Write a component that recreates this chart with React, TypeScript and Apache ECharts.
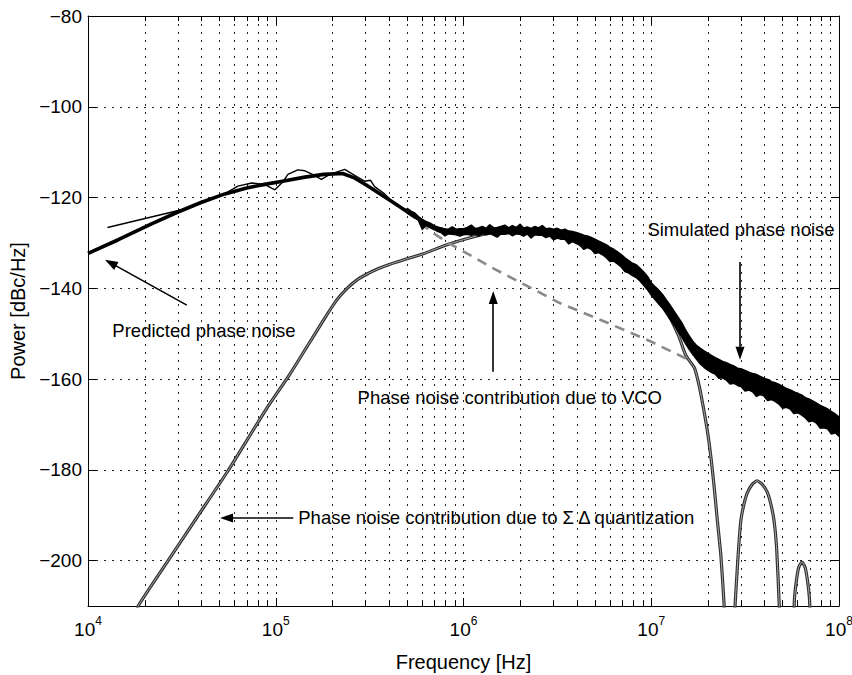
import React, { useEffect, useRef } from "react";
import * as echarts from "echarts";

const FONT = "'Liberation Sans', Arial, Helvetica, sans-serif";

// ---- axis ticks ----
const decadeStarts = [1e4, 1e5, 1e6, 1e7];
const minorMultipliers = [2, 3, 4, 5, 6, 7, 8, 9];

// ---- predicted phase noise (thick line) [Hz, dBc/Hz] ----
const predicted: [number, number][] = [
  [1e4, -132.3], [1.45e4, -129.3], [2.18e4, -125.8], [2.97e4, -123.3], [4e4, -121.1],
  [5.36e4, -119.2], [7e4, -117.9], [8.73e4, -117.1], [1.05e5, -116.5], [1.43e5, -115.5],
  [1.8e5, -114.9], [2.27e5, -114.7], [2.6e5, -115.6], [3.05e5, -117.3], [3.6e5, -119.2],
  [4.19e5, -121.0], [5.35e5, -123.9], [6.84e5, -126.5], [8.73e5, -127.6], [1.1e6, -127.7],
  [2e6, -127.4], [3e6, -128.0], [4e6, -129.2], [6e6, -132.0], [8e6, -135.3], [1e7, -140.2],
  [1.2e7, -144.0], [1.4e7, -148.5], [1.6e7, -152.3], [1.8e7, -155.2], [2e7, -156.5],
  [3e7, -159.6], [5e7, -163.6], [1e8, -170.8],
];

// ---- simulated phase noise, low-frequency thin trace ----
const simulatedLow: [number, number][] = [
  [1.27e4, -126.6], [3.15e4, -122.7], [4.2e4, -120.9], [5.4e4, -119.1], [6.28e4, -117.5],
  [7.45e4, -116.8], [8.7e4, -117.1], [9.9e4, -118.3], [1.09e5, -116.6], [1.16e5, -114.9],
  [1.31e5, -113.9], [1.43e5, -114.1], [1.57e5, -114.9], [1.75e5, -116.0], [1.94e5, -114.9],
  [2.33e5, -113.8], [2.63e5, -115.1], [2.97e5, -116.4], [3.2e5, -116.2], [3.36e5, -117.6],
  [3.8e5, -119.2], [4.2e5, -121.0], [4.6e5, -122.2], [5.01e5, -122.8],
];

// ---- simulated phase noise, noisy band [Hz, low dB, high dB] ----
const simulatedBand: [number, number, number][] = [
  [5.01e5, -123.2, -122.4], [5.25e5, -123.8, -123.0], [5.5e5, -124.4, -123.4], [5.75e5, -125.0, -124.2],
  [6.03e5, -127.0, -124.8], [6.31e5, -126.1, -125.3], [6.61e5, -126.6, -125.6], [6.92e5, -127.0, -126.1],
  [7.24e5, -127.4, -126.5], [7.59e5, -127.7, -126.7], [7.94e5, -128.4, -127.0], [8.32e5, -128.0, -127.0],
  [8.71e5, -128.1, -126.5], [9.12e5, -128.2, -127.0], [9.55e5, -128.5, -126.9],
  [1.0e6, -128.2, -126.9], [1.05e6, -128.1, -126.6], [1.1e6, -128.3, -126.1], [1.15e6, -128.0, -126.8],
  [1.2e6, -128.5, -126.7], [1.26e6, -128.0, -126.4], [1.32e6, -128.2, -126.8], [1.38e6, -127.9, -126.0],
  [1.45e6, -128.3, -126.7], [1.51e6, -128.7, -126.6], [1.58e6, -128.0, -126.4], [1.66e6, -128.1, -126.1],
  [1.74e6, -127.9, -126.7], [1.82e6, -128.4, -126.2], [1.91e6, -128.0, -126.6], [2.0e6, -128.1, -125.9],
  [2.09e6, -128.5, -126.7], [2.19e6, -128.0, -126.5], [2.29e6, -128.9, -126.8], [2.4e6, -128.2, -126.4],
  [2.51e6, -128.3, -126.7], [2.63e6, -128.3, -126.2], [2.75e6, -128.8, -126.9], [2.88e6, -128.5, -126.8],
  [3.02e6, -129.3, -127.0], [3.16e6, -128.9, -126.8], [3.31e6, -129.2, -127.2], [3.47e6, -129.2, -127.0],
  [3.63e6, -130.2, -127.4], [3.8e6, -129.7, -127.5], [3.98e6, -130.1, -127.7], [4.17e6, -130.5, -128.0],
  [4.37e6, -131.4, -128.3], [4.57e6, -131.0, -128.5], [4.79e6, -131.4, -128.8], [5.01e6, -132.3, -129.2],
  [5.25e6, -132.1, -129.6], [5.5e6, -132.6, -130.0], [5.75e6, -133.2, -130.4], [6.03e6, -134.1, -131.0],
  [6.31e6, -134.0, -131.4], [6.61e6, -134.6, -132.0], [6.92e6, -135.3, -132.6], [7.24e6, -136.3, -133.3],
  [7.59e6, -136.6, -133.9], [7.94e6, -137.2, -134.5], [8.32e6, -137.6, -134.8], [8.71e6, -138.4, -135.6],
  [9.12e6, -139.3, -136.4], [9.55e6, -140.3, -137.4],
  [1.0e7, -141.5, -138.8], [1.05e7, -142.5, -139.7], [1.1e7, -143.5, -140.5], [1.15e7, -144.4, -141.4],
  [1.2e7, -145.5, -142.5], [1.26e7, -146.8, -143.7], [1.32e7, -148.0, -145.0], [1.38e7, -149.3, -146.2],
  [1.45e7, -150.6, -147.5], [1.51e7, -151.9, -148.9], [1.58e7, -153.2, -150.3], [1.66e7, -154.5, -151.6],
  [1.74e7, -155.6, -152.6], [1.82e7, -156.6, -153.2], [1.91e7, -157.4, -153.8], [2.0e7, -158.0, -154.3],
  [2.09e7, -158.5, -154.8], [2.19e7, -158.9, -155.3], [2.29e7, -159.8, -155.7], [2.4e7, -159.7, -156.1],
  [2.51e7, -160.2, -156.4], [2.63e7, -161.1, -156.8], [2.75e7, -160.9, -157.1], [2.88e7, -161.4, -157.6],
  [3.02e7, -161.7, -157.8], [3.16e7, -162.6, -158.1], [3.31e7, -162.4, -158.5], [3.47e7, -162.8, -158.8],
  [3.63e7, -163.8, -159.0], [3.8e7, -163.4, -159.4], [3.98e7, -163.7, -159.8], [4.17e7, -164.7, -160.1],
  [4.37e7, -164.5, -160.6], [4.57e7, -164.9, -160.8], [4.79e7, -165.5, -161.2], [5.01e7, -166.4, -161.6],
  [5.25e7, -166.2, -162.1], [5.5e7, -166.6, -162.4], [5.75e7, -167.6, -162.8], [6.03e7, -167.4, -163.2],
  [6.31e7, -167.9, -163.5], [6.61e7, -168.5, -164.1], [6.92e7, -169.4, -164.4], [7.24e7, -169.2, -164.8],
  [7.59e7, -169.7, -165.3], [7.94e7, -170.8, -165.8], [8.32e7, -170.7, -166.2], [8.71e7, -171.0, -166.6],
  [9.12e7, -172.1, -167.2], [9.55e7, -171.8, -167.7], [1.0e8, -172.6, -168.4],
];

// ---- VCO contribution (dashed) ----
const vcoContribution: [number, number][] = [
  [5e5, -123.3], [5.5e5, -124.5], [6.05e5, -126.1], [7e5, -128.0], [8.4e5, -130.1],
  [1.44e6, -135.6], [2.33e6, -140.1], [3.24e6, -143.2], [6e6, -147.8], [9.8e6, -151.6],
  [1.59e7, -155.8],
];

// ---- Sigma-Delta quantization contribution ----
const sigmaDeltaMain: [number, number][] = [
  [1.8e4, -212], [1.85e4, -210], [2.67e4, -200], [3.8e4, -190.5], [5.57e4, -180.2],
  [8.9e4, -166.6], [1.19e5, -158.9], [1.79e5, -147.1], [2.11e5, -142.6], [2.4e5, -140.0],
  [2.7e5, -138.2], [3.05e5, -136.9], [3.5e5, -135.7], [4.06e5, -134.7], [5e5, -133.5],
  [6.1e5, -132.4], [8.15e5, -130.4], [1.22e6, -128.3], [1.55e6, -127.6], [2e6, -127.3],
  [2.5e6, -127.3], [3e6, -127.6], [4e6, -128.7], [5e6, -130.0], [6e6, -131.6], [8e6, -135.3],
  [1e7, -140.0], [1.2e7, -144.8], [1.4e7, -150.5], [1.53e7, -154.8], [1.7e7, -157.6],
  [1.8e7, -161.5], [1.88e7, -165.5], [1.99e7, -171.4], [2.08e7, -177.3], [2.16e7, -183.5],
  [2.25e7, -191.2], [2.35e7, -199.0], [2.44e7, -209.3], [2.46e7, -212],
];
const sigmaDeltaLobe2: [number, number][] = [
  [2.78e7, -212], [2.8e7, -209.3], [2.9e7, -199.0], [3.0e7, -191.2], [3.12e7, -187.5],
  [3.25e7, -185.0], [3.45e7, -183.2], [3.66e7, -182.4], [3.9e7, -183.2], [4.16e7, -185.0],
  [4.35e7, -187.8], [4.51e7, -191.2], [4.65e7, -197.0], [4.8e7, -209.3], [4.82e7, -212],
];
const sigmaDeltaLobe3: [number, number][] = [
  [5.75e7, -212], [5.8e7, -208.0], [5.95e7, -204.0], [6.1e7, -201.5], [6.35e7, -200.3],
  [6.6e7, -201.5], [6.8e7, -204.5], [6.95e7, -208.0], [7.02e7, -212],
];

// ---- annotations (data coordinates) ----
const annotationTexts = [
  { text: "Predicted phase noise", f: 1.34e4, db: -149.2 },
  { text: "Simulated phase noise", f: 9.48e6, db: -127.1 },
  { text: "Phase noise contribution due to VCO", f: 2.71e5, db: -164.1 },
  { text: "Phase noise contribution due to \u03A3 \u0394 quantization", f: 1.31e5, db: -190.4 },
];
const annotationArrows = [
  { from: [3.36e4, -143.7], to: [1.32e4, -134.4] },
  { from: [2.97e7, -134.2], to: [2.97e7, -154.3] },
  { from: [1.44e6, -158.4], to: [1.44e6, -142.0] },
  { from: [1.24e5, -190.6], to: [5.47e4, -190.6] },
];

export default function App() {
  const ref = useRef<HTMLDivElement>(null);

  useEffect(() => {
    if (!ref.current) return;
    const chart = echarts.init(ref.current, undefined, { renderer: "svg" });

    const minorTicks = decadeStarts.flatMap((d) => minorMultipliers.map((m) => m * d));
    const gap: any = [2.6e7, "-"];
    const gap2: any = [5.3e7, "-"];
    const sigmaDeltaData: any[] = [...sigmaDeltaMain, gap, ...sigmaDeltaLobe2, gap2, ...sigmaDeltaLobe3];

    const gridLine = { color: "#222", width: 1, type: [2, 6] as any };
    const axisLineStyle = { color: "#000", width: 1 };

    const xBase: any = {
      type: "log",
      logBase: 10,
      min: 1e4,
      max: 1e8,
      axisLine: { show: true, onZero: false, lineStyle: axisLineStyle },
      axisTick: { show: true, inside: true, length: 8, lineStyle: { color: "#000" } },
      minorTick: { show: false },
    };
    const yBase: any = {
      type: "value",
      min: -210,
      max: -80,
      splitNumber: 6,
      minInterval: 20,
      maxInterval: 20,
      axisLine: { show: true, onZero: false, lineStyle: axisLineStyle },
      axisTick: { show: true, inside: true, length: 8, lineStyle: { color: "#000" } },
    };

    const option: any = {
      animation: false,
      backgroundColor: "#fff",
      textStyle: { fontFamily: FONT },
      grid: { left: 88, right: 13, top: 16, bottom: 69, containLabel: false, outerBoundsMode: "none" },
      xAxis: [
        {
          ...xBase,
          position: "bottom",
          name: "Frequency [Hz]",
          nameLocation: "middle",
          nameGap: 46,
          nameTextStyle: { fontSize: 20, color: "#000", fontFamily: FONT },
          splitLine: { show: true, lineStyle: gridLine },
          axisLabel: {
            show: true,
            margin: 9,
            color: "#000",
            formatter: (v: number) => `{b|10}{e|${Math.round(Math.log10(v))}}`,
            rich: {
              b: { fontSize: 19, lineHeight: 24, verticalAlign: "bottom", color: "#000", fontFamily: FONT },
              e: { fontSize: 12, lineHeight: 12, verticalAlign: "top", color: "#000", fontFamily: FONT },
            },
          },
        },
        {
          ...xBase,
          position: "top",
          splitLine: { show: false },
          axisLabel: { show: false },
        },
      ],
      yAxis: [
        {
          ...yBase,
          position: "left",
          name: "Power [dBc/Hz]",
          nameLocation: "middle",
          nameRotate: 90,
          nameGap: 46,
          nameTextStyle: { fontSize: 20, color: "#000", fontFamily: FONT },
          splitLine: { show: true, lineStyle: gridLine },
          axisLabel: {
            show: true,
            margin: 6,
            fontSize: 19,
            color: "#000",
            fontFamily: FONT,
            showMinLabel: false,
            formatter: (v: number) => String(v).replace("-", "\u2212"),
          },
        },
        {
          ...yBase,
          position: "right",
          splitLine: { show: false },
          axisLabel: { show: false },
        },
      ],
      series: [
        {
          type: "custom",
          name: "minor grid",
          silent: true,
          z: 1,
          data: minorTicks.map((f) => [f, -80]),
          encode: { x: 0, y: 1 },
          renderItem: (params: any, api: any) => {
            const p = api.coord([api.value(0), -80]);
            const cs = params.coordSys;
            const x = Math.round(p[0]) + 0.5;
            return {
              type: "group",
              children: [
                { type: "line", shape: { x1: x, y1: cs.y, x2: x, y2: cs.y + cs.height }, style: { stroke: "#222", lineWidth: 1, lineDash: [2, 6] } },
                { type: "line", shape: { x1: x, y1: cs.y + cs.height, x2: x, y2: cs.y + cs.height - 5 }, style: { stroke: "#000", lineWidth: 1 } },
                { type: "line", shape: { x1: x, y1: cs.y, x2: x, y2: cs.y + 5 }, style: { stroke: "#000", lineWidth: 1 } },
              ],
            };
          },
        },
        {
          type: "line",
          name: "sigma-delta outer",
          data: sigmaDeltaData,
          showSymbol: false,
          symbol: "none",
          connectNulls: false,
          smooth: 0.2,
          silent: true,
          z: 2,
          lineStyle: { color: "#303030", width: 3.2 },
        },
        {
          type: "line",
          name: "sigma-delta inner",
          data: sigmaDeltaData,
          showSymbol: false,
          symbol: "none",
          connectNulls: false,
          smooth: 0.2,
          silent: true,
          z: 3,
          lineStyle: { color: "#a8a8a8", width: 1 },
        },
        {
          type: "line",
          name: "VCO",
          data: vcoContribution,
          showSymbol: false,
          symbol: "none",
          silent: true,
          z: 4,
          lineStyle: { color: "#8a8a8a", width: 2.6, type: [10, 7] },
        },
        {
          type: "line",
          name: "Predicted",
          data: predicted,
          showSymbol: false,
          symbol: "none",
          silent: true,
          z: 5,
          lineStyle: { color: "#000", width: 3.6 },
        },
        {
          type: "custom",
          name: "Simulated band",
          silent: true,
          z: 6,
          data: simulatedBand,
          encode: { x: 0, y: [1, 2] },
          renderItem: (params: any, api: any) => {
            if (params.dataIndexInside !== 0) return null;
            const n = params.dataInsideLength;
            const upper: number[][] = [];
            const lower: number[][] = [];
            for (let j = 0; j < n; j++) {
              const f = api.value(0, j);
              upper.push(api.coord([f, api.value(2, j)]));
              lower.push(api.coord([f, api.value(1, j)]));
            }
            return {
              type: "polygon",
              shape: { points: upper.concat(lower.reverse()) },
              style: { fill: "#000", stroke: "#000", lineWidth: 1.6, lineJoin: "round" },
            };
          },
        },
        {
          type: "line",
          name: "Simulated",
          data: simulatedLow,
          showSymbol: false,
          symbol: "none",
          silent: true,
          z: 7,
          lineStyle: { color: "#000", width: 1.4 },
          markLine: {
            silent: true,
            symbol: ["none", "triangle"],
            symbolSize: [9, 13],
            label: { show: false },
            itemStyle: { color: "#000" },
            lineStyle: { color: "#000", width: 1.6, type: "solid" },
            emphasis: { disabled: true },
            data: annotationArrows.map((a) => [{ coord: a.from }, { coord: a.to }]),
          },
          markPoint: {
            silent: true,
            symbol: "circle",
            symbolSize: 1,
            itemStyle: { color: "rgba(0,0,0,0)" },
            label: {
              show: true,
              position: "right",
              distance: 0,
              color: "#000",
              fontSize: 18.5,
              fontFamily: FONT,
              formatter: (p: any) => p.name,
            },
            emphasis: { disabled: true },
            data: annotationTexts.map((t) => ({ name: t.text, coord: [t.f, t.db] })),
          },
        },
      ],
    };

    chart.setOption(option);
    return () => chart.dispose();
  }, []);

  return (
    <div
      ref={ref}
      style={{ position: "fixed", left: 0, top: 0, width: 852, height: 675, background: "#fff" }}
    />
  );
}
